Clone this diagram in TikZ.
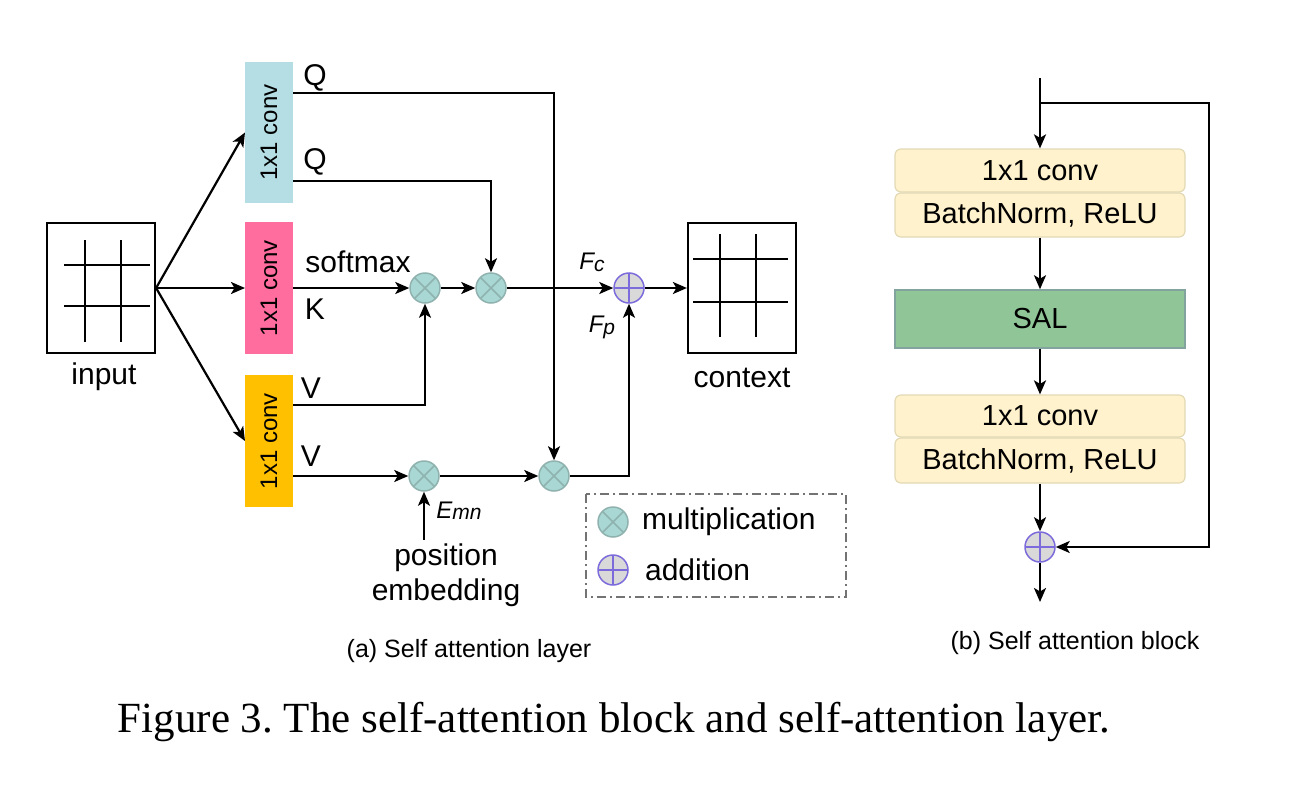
\documentclass[tikz,border=0pt]{standalone}
\usepackage{fontspec}
\setmainfont{Liberation Sans}
\newfontfamily\capfont{Liberation Serif}
\usetikzlibrary{arrows.meta}
\definecolor{cblue}{HTML}{B4DEE3}
\definecolor{cpink}{HTML}{FF6C9E}
\definecolor{cyel}{HTML}{FFC000}
\definecolor{mfill}{HTML}{A9D8D4}
\definecolor{mdraw}{HTML}{8FB2AF}
\definecolor{pfill}{HTML}{D9D9D9}
\definecolor{pdraw}{HTML}{7B6BDB}
\definecolor{cream}{HTML}{FFF2CC}
\definecolor{creamdraw}{HTML}{E3D9B5}
\definecolor{salfill}{HTML}{8FC597}
\definecolor{saldraw}{HTML}{82A39E}
\begin{document}
\begin{tikzpicture}[x=1pt,y=-1pt,line width=2.2pt,
  arr/.style={-{Stealth[length=14pt,width=12pt,inset=3.5pt]}},
  conv/.style={minimum width=48pt,inner sep=0pt,outer sep=0pt,font=\fontsize{24}{24}\selectfont},
  lbl/.style={inner sep=0pt,font=\fontsize{30}{30}\selectfont},
  ital/.style={inner sep=0pt,font=\fontsize{24}{24}\selectfont\itshape},
  mult/.style={circle,minimum size=30pt,inner sep=0pt,fill=mfill,draw=mdraw,line width=1.5pt,
    path picture={\draw[mdraw,line width=1.5pt] (path picture bounding box.north west) -- (path picture bounding box.south east)
      (path picture bounding box.north east) -- (path picture bounding box.south west);}},
  addn/.style={circle,minimum size=30pt,inner sep=0pt,fill=pfill,draw=pdraw,line width=1.5pt,
    path picture={\draw[pdraw,line width=1.5pt] (path picture bounding box.north) -- (path picture bounding box.south)
      (path picture bounding box.east) -- (path picture bounding box.west);}},
  grid/.style={draw,minimum width=108pt,minimum height=130pt,inner sep=0pt},
  cbox/.style={rounded corners=6pt,fill=cream,draw=creamdraw,line width=1.2pt,minimum width=290pt,inner sep=0pt,font=\fontsize{29}{29}\selectfont},
  sbox/.style={fill=salfill,draw=saldraw,line width=1.5pt,minimum width=290pt,inner sep=0pt,font=\fontsize{29}{29}\selectfont},
  legbox/.style={draw=black!55,line width=1.5pt,dash pattern=on 9pt off 4pt on 2pt off 4pt}
]
\useasboundingbox (0,0) rectangle (1294,806);
% input grid
\node[grid] (inp) at (101,288) {};
\draw (85,240) -- (85,342) (121,240) -- (121,342) (64,265) -- (150,265) (64,306) -- (150,306);
\node[lbl] (inpl) at (104,377) {input};
% conv boxes
\node[conv,fill=cblue,minimum height=141pt] (qc) at (269,132.5) {\rotatebox{90}{1x1 conv}};
\node[conv,fill=cpink,minimum height=132pt] (kc) at (269,288) {\rotatebox{90}{1x1 conv}};
\node[conv,fill=cyel,minimum height=132pt] (vc) at (269,441) {\rotatebox{90}{1x1 conv}};
\draw[arr] (inp.east) -- (qc.west);
\draw[arr] (inp.east) -- (kc.west);
\draw[arr] (inp.east) -- (vc.west);
% operators
\node[mult] (m1) at (425,288) {};
\node[mult] (m2) at (491,288) {};
\node[mult] (m3) at (424,476) {};
\node[mult] (m4) at (554,476) {};
\node[addn] (pl) at (629,288) {};
% context
\node[grid] (ctx) at (742,288) {};
\draw (720,234) -- (720,337) (756,234) -- (756,337) (693,259) -- (788,259) (693,302) -- (788,302);
\node[lbl] (ctxl) at (742,378) {context};
% connectors
\coordinate (y1) at (0,93);
\coordinate (y2) at (0,181);
\coordinate (y3) at (0,405);
\coordinate (pe) at (424,540);
\draw[arr] (qc.east |- y1) -| (m4.north);
\draw[arr] (qc.east |- y2) -| (m2.north);
\draw[arr] (kc.east |- m1.west) -- (m1.west);
\draw[arr] (vc.east |- y3) -| (m1.south);
\draw[arr] (vc.east |- m3.west) -- (m3.west);
\draw[arr] (m1.east) -- (m2.west);
\draw[arr] (m2.east) -- (pl.west);
\draw[arr] (pl.east) -- (ctx.west);
\draw[arr] (m3.east) -- (m4.west);
\draw[arr] (m4.east) -| (pl.south);
\draw[arr] (pe) -- (m3.south);
% labels
\node[lbl] (lq1) at (315,78) {Q};
\node[lbl] (lq2) at (315,162) {Q};
\node[lbl] (lsm) at (358,262) {softmax};
\node[lbl] (lk) at (315,309) {K};
\node[lbl] (lv1) at (311,388) {V};
\node[lbl] (lv2) at (311,456) {V};
\node[ital] (lfc) at (592,262) {F\raisebox{-2pt}{\fontsize{21}{21}\selectfont c}};
\node[ital] (lfp) at (602,327) {F\raisebox{-2pt}{\fontsize{21}{21}\selectfont p}};
\node[ital] (lemn) at (459,511) {E\raisebox{-1pt}{\fontsize{21}{21}\selectfont mn}};
\node[lbl] (lpos) at (446,558) {position};
\node[lbl] (lemb) at (446,593) {embedding};
% legend
\draw[legbox] (586,494) rectangle (846,597);
\node[mult] (lm) at (613,522) {};
\node[addn] (la) at (613,570) {};
\node[lbl,anchor=west] (lmt) at (641,522) {multiplication};
\node[lbl,anchor=west] (lat) at (644,570) {addition};
% captions
\node[inner sep=0pt,font=\fontsize{25}{25}\selectfont] (capa) at (469,651) {(a) Self attention layer};
\node[inner sep=0pt,font=\fontsize{25}{25}\selectfont] (capb) at (1075,643) {(b) Self attention block};
\node[inner sep=0pt,font=\capfont\fontsize{43}{43}\selectfont\frenchspacing] (capm) at (614,722) {Figure 3. The self-attention block and self-attention layer.};
% right panel
\node[cbox,minimum height=43pt] (b1) at (1040,170.5) {1x1 conv};
\node[cbox,minimum height=44pt] (b2) at (1040,215) {BatchNorm, ReLU};
\node[sbox,minimum height=58pt] (sal) at (1040,319) {SAL};
\node[cbox,minimum height=42pt] (b3) at (1040,416) {1x1 conv};
\node[cbox,minimum height=45pt] (b4) at (1040,460.5) {BatchNorm, ReLU};
\node[addn] (pl2) at (1040,547) {};
\coordinate (top) at (1040,78);
\coordinate (br) at (1040,103);
\coordinate (rc) at (1209,547);
\coordinate (bot) at (1040,602);
\draw[arr] (top) -- (b1.north);
\draw[arr] (br) -| (rc) -- (pl2.east);
\draw[arr] (b2.south) -- (sal.north);
\draw[arr] (sal.south) -- (b3.north);
\draw[arr] (b4.south) -- (pl2.north);
\draw[arr] (pl2.south) -- (bot);
\end{tikzpicture}
\end{document}
